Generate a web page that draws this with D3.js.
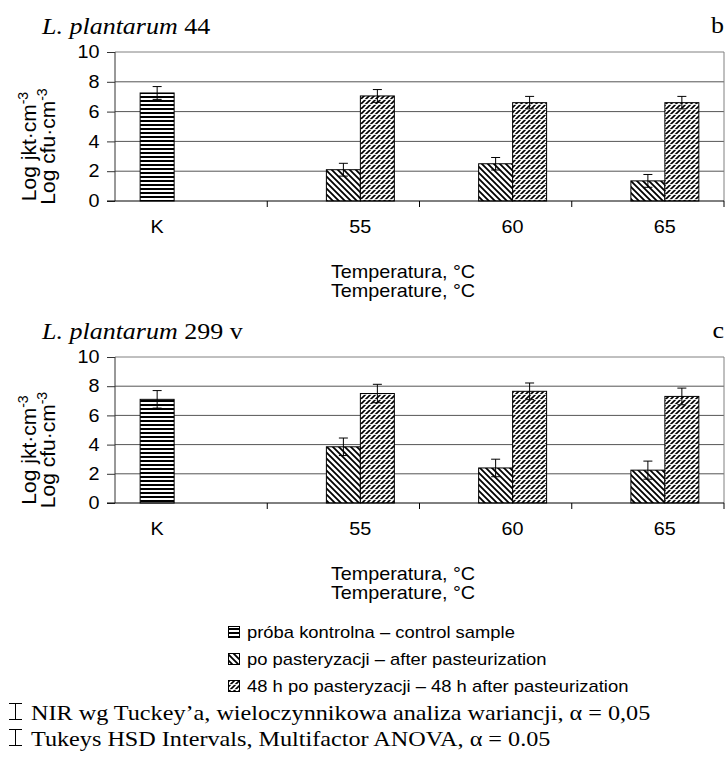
<!DOCTYPE html>
<html lang="en">
<head>
<meta charset="UTF-8">
<title>L. plantarum – pasteurization</title>
<script src="https://d3js.org/d3.v7.min.js"></script>
<style>
    body { margin: 0; background: white; }
    svg text { fill: black; }
</style>
</head>
<body>
<svg id="chart" width="728" height="760"></svg>
<script>
// categories and series
const categories = ["K", "55", "60", "65"];
const seriesNames = [
    "próba kontrolna – control sample",
    "po pasteryzacji – after pasteurization",
    "48 h po pasteryzacji – 48 h after pasteurization"
];
const yTicks = [0, 2, 4, 6, 8, 10];

// L. plantarum 44 (panel b)
const control44 = [7.25, null, null, null];
const after44 = [null, 2.1, 2.5, 1.35];
const later44 = [null, 7.05, 6.6, 6.6];
const errControl44 = [0.43, null, null, null];
const errAfter44 = [null, 0.43, 0.42, 0.43];
const errLater44 = [null, 0.43, 0.42, 0.42];

// L. plantarum 299 v (panel c)
const control299 = [7.1, null, null, null];
const after299 = [null, 3.85, 2.4, 2.25];
const later299 = [null, 7.5, 7.65, 7.3];
const errControl299 = [0.6, null, null, null];
const errAfter299 = [null, 0.6, 0.6, 0.62];
const errLater299 = [null, 0.63, 0.57, 0.57];

const panels = [
    { strain: "44", letter: "b", top: 52, bottom: 201,
      values: [control44, after44, later44], errors: [errControl44, errAfter44, errLater44] },
    { strain: "299 v", letter: "c", top: 357, bottom: 503,
      values: [control299, after299, later299], errors: [errControl299, errAfter299, errLater299] }
];

const svg = d3.select("#chart");
const left = 115, right = 724;
const sans = "'Liberation Sans', Arial, sans-serif";
const serif = "'Liberation Serif', 'Times New Roman', serif";

// text in the original is a little wider than the plain fonts
function label(parent, x, y, size, family, k, anchor) {
    return parent.append("text")
        .attr("transform", `translate(${x},${y}) scale(${k},1)`)
        .attr("text-anchor", anchor || "start")
        .style("font-family", family).style("font-size", size + "px");
}

// fill patterns
const defs = svg.append("defs");
const pStripe = defs.append("pattern").attr("id", "pat0")
    .attr("patternUnits", "userSpaceOnUse").attr("width", 4).attr("height", 4);
pStripe.append("rect").attr("width", 4).attr("height", 4).attr("fill", "white");
pStripe.append("rect").attr("width", 4).attr("height", 2).attr("fill", "black");

const pDown = defs.append("pattern").attr("id", "pat1")
    .attr("patternUnits", "userSpaceOnUse").attr("width", 6).attr("height", 6);
pDown.append("rect").attr("width", 6).attr("height", 6).attr("fill", "white");
pDown.append("path").attr("d", "M0,0L6,6M-1,5L1,7M5,-1L7,1")
    .attr("stroke", "black").attr("stroke-width", 1.8);

const pUp = defs.append("pattern").attr("id", "pat2")
    .attr("patternUnits", "userSpaceOnUse").attr("width", 5).attr("height", 5);
pUp.append("rect").attr("width", 5).attr("height", 5).attr("fill", "white");
pUp.append("path").attr("d", "M0,5L5,0M-1,1L1,-1M4,6L6,4")
    .attr("stroke", "black").attr("stroke-width", 1.6);
pUp.append("rect").attr("y", 4).attr("width", 5).attr("height", 0.8).attr("fill", "white");

const x0 = d3.scaleBand().domain(categories).range([left, right]).padding(0);
const xSub = d3.scaleBand().domain([0, 1, 2]).range([0, x0.bandwidth()])
    .paddingInner(0).paddingOuter(0.74);

panels.forEach(p => {
    const y = d3.scaleLinear().domain([0, 10]).range([p.bottom, p.top]);
    const g = svg.append("g");

    // title
    const t = label(g, 42, p.top - 18, 23, serif, 1.13);
    t.append("tspan").style("font-style", "italic").text("L. plantarum");
    t.append("tspan").text(" " + p.strain);
    label(g, 724, p.top - 19, 23, serif, 1.13, "end").text(p.letter);

    // gridlines + plot border
    g.selectAll(".grid").data(yTicks.slice(1)).join("line")
        .attr("x1", left).attr("x2", right)
        .attr("y1", d => y(d)).attr("y2", d => y(d))
        .attr("stroke", d => d === 10 ? "#808080" : "#555").attr("stroke-width", 1);
    g.append("line").attr("x1", right).attr("x2", right)
        .attr("y1", y(10)).attr("y2", y(0)).attr("stroke", "#808080");

    // bars
    p.values.forEach((vals, s) => {
        const rows = categories.map((c, i) => ({ c, v: vals[i], e: p.errors[s][i] }))
            .filter(d => d.v != null);
        g.selectAll(".bar" + s).data(rows).join("rect")
            .attr("x", d => x0(d.c) + xSub(s))
            .attr("width", xSub.bandwidth())
            .attr("y", d => y(d.v))
            .attr("height", d => y(0) - y(d.v))
            .attr("fill", "url(#pat" + s + ")")
            .attr("stroke", "black").attr("stroke-width", 1);

        const eb = g.selectAll(".err" + s).data(rows).join("g")
            .attr("transform", d => `translate(${x0(d.c) + xSub(s) + xSub.bandwidth() / 2},0)`);
        eb.append("line").attr("y1", d => y(d.v + d.e)).attr("y2", d => y(d.v - d.e))
            .attr("stroke", "black");
        eb.append("line").attr("x1", -4.5).attr("x2", 4.5)
            .attr("y1", d => y(d.v + d.e)).attr("y2", d => y(d.v + d.e)).attr("stroke", "black");
        eb.append("line").attr("x1", -4.5).attr("x2", 4.5)
            .attr("y1", d => y(d.v - d.e)).attr("y2", d => y(d.v - d.e)).attr("stroke", "black");
    });

    // y axis
    const ya = g.append("g").attr("transform", `translate(${left},0)`)
        .call(d3.axisLeft(y).tickValues(yTicks).tickSize(8).tickPadding(6));
    ya.select(".domain").attr("stroke", "#333").attr("d", `M0,${y(10)}V${y(0)}`);
    ya.selectAll(".tick line").attr("stroke", "#333");
    ya.selectAll("text").style("font-family", sans).style("font-size", "18px")
        .attr("fill", "black").attr("transform", "scale(1.1,1)");

    // x axis baseline and category ticks
    g.append("line").attr("x1", left - 8).attr("x2", right)
        .attr("y1", y(0)).attr("y2", y(0)).attr("stroke", "black");
    g.selectAll(".xtick").data(categories).join("line")
        .attr("x1", d => x0(d) + x0.bandwidth()).attr("x2", d => x0(d) + x0.bandwidth())
        .attr("y1", y(0)).attr("y2", y(0) + 6).attr("stroke", "black");

    // category labels, centred under the bars present
    categories.forEach((c, i) => {
        const present = p.values.map((v, s) => v[i] != null ? s : null).filter(s => s != null);
        const a = x0(c) + xSub(present[0]);
        const b = x0(c) + xSub(present[present.length - 1]) + xSub.bandwidth();
        label(g, (a + b) / 2, y(0) + 32, 18, sans, 1.1, "middle").text(c);
    });

    // x title
    ["Temperatura, °C", "Temperature, °C"].forEach((s, i) => {
        label(g, 403, y(0) + 77 + i * 19, 18, sans, 1.1, "middle").text(s);
    });

    // y title
    const cy = (p.top + p.bottom) / 2 + 20;
    [["Log jkt·cm", 36], ["Log cfu·cm", 55]].forEach(([s, xx]) => {
        const tt = g.append("text")
            .attr("transform", `translate(${xx},${cy}) rotate(-90)`)
            .attr("text-anchor", "middle")
            .style("font-family", sans).style("font-size", "21px");
        tt.append("tspan").text(s);
        tt.append("tspan").attr("dy", -8).style("font-size", "14px").text("-3");
    });
});

// legend
const lg = svg.append("g");
seriesNames.forEach((name, s) => {
    const yy = 632 + s * 27;
    lg.append("rect").attr("x", 228.5).attr("y", yy - 5.5).attr("width", 11).attr("height", 11)
        .attr("fill", "url(#pat" + s + ")").attr("stroke", "black");
    label(lg, 247, yy + 6, 16, sans, 1.15).text(name);
});

// error-bar note
const notes = [
    "NIR wg Tuckey’a, wieloczynnikowa analiza wariancji, α = 0,05",
    "Tukeys HSD Intervals, Multifactor ANOVA, α = 0.05"
];
notes.forEach((n, i) => {
    const by = 720 + i * 26;
    const ic = svg.append("g").attr("stroke", "black").attr("stroke-width", 1);
    ic.append("line").attr("x1", 15.5).attr("x2", 15.5).attr("y1", by - 16).attr("y2", by);
    ic.append("line").attr("x1", 9).attr("x2", 22).attr("y1", by - 16.5).attr("y2", by - 16.5);
    ic.append("line").attr("x1", 9).attr("x2", 22).attr("y1", by - 0.5).attr("y2", by - 0.5);
    label(svg, 31, by, 22, serif, 1.1).text(n);
});
</script>
</body>
</html>
